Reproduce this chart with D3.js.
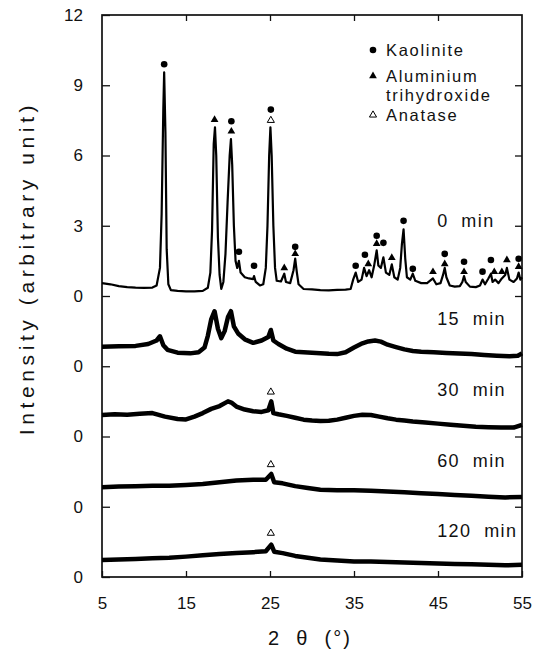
<!DOCTYPE html>
<html>
<head>
<meta charset="utf-8">
<script src="https://cdn.jsdelivr.net/npm/d3@7"></script>
<style>
  body { margin: 0; background: #fff; }
  svg text { font-family: "Liberation Sans", Arial, sans-serif; fill: #111; }
</style>
</head>
<body>
<div id="chart"></div>
<script>
// ---- data ----
const traceNames = ["0 min", "15 min", "30 min", "60 min", "120 min"];
const traceOffsets = [0, -3, -6, -9, -12];   // each pattern is stacked 3 units lower

const trace0 = [
  [5.0,0.55],[6.0,0.5],[7.0,0.42],[8.0,0.38],[9.0,0.36],[10.0,0.35],[11.0,0.36],[11.5,0.45],
  [11.9,1.2],[12.1,3.5],[12.3,8.0],[12.4,9.55],[12.55,7.0],[12.7,2.0],[12.9,0.5],[13.2,0.25],
  [14,0.22],[15,0.2],[16,0.2],[17,0.22],[17.6,0.35],[17.9,1.0],[18.1,2.8],[18.3,6.5],[18.45,7.2],
  [18.6,6.0],[18.8,2.5],[19.0,0.9],[19.2,0.3],[19.45,0.6],[19.7,1.8],[19.95,4.0],[20.2,6.0],
  [20.35,6.7],[20.5,5.6],[20.7,3.0],[20.9,1.5],[21.1,1.2],[21.3,1.5],[21.5,1.0],[22.0,0.8],
  [22.5,0.75],[23.0,0.72],[23.1,0.85],[23.3,0.6],[23.8,0.45],[24.2,0.5],[24.5,1.2],[24.7,3.0],
  [24.9,6.0],[25.05,7.2],[25.2,6.0],[25.4,3.0],[25.6,1.2],[25.8,0.65],[26.3,0.62],[26.7,0.95],
  [26.9,0.6],[27.4,0.55],[27.8,1.1],[28.0,1.6],[28.2,1.0],[28.4,0.5],[29,0.3],[30,0.28],
  [31,0.25],[32,0.24],[33,0.26],[34,0.27],[34.6,0.3],[34.9,0.7],[35.2,1.0],[35.5,0.6],[35.9,0.7],
  [36.2,1.2],[36.5,0.85],[36.8,1.1],[37.1,0.8],[37.4,1.3],[37.7,1.95],[37.9,1.3],[38.2,1.2],
  [38.5,1.65],[38.8,1.0],[39.2,0.9],[39.5,1.35],[39.8,0.8],[40.2,0.7],[40.5,1.2],[40.7,2.2],
  [40.9,2.85],[41.1,1.6],[41.3,0.8],[41.7,0.7],[42.0,0.95],[42.3,0.65],[43,0.55],[43.7,0.55],
  [44.4,0.75],[44.8,0.5],[45.3,0.55],[45.6,0.9],[45.8,1.2],[46.0,0.8],[46.4,0.45],[47,0.4],
  [47.6,0.42],[47.9,0.6],[48.1,0.85],[48.3,0.6],[48.8,0.4],[49.5,0.38],[50.0,0.45],[50.3,0.7],
  [50.6,0.5],[51.0,0.75],[51.3,0.95],[51.5,0.6],[51.8,0.7],[52.2,0.55],[52.6,0.75],[53.0,0.9],
  [53.2,1.2],[53.5,0.7],[54.0,0.6],[54.4,0.75],[54.6,1.0],[54.8,0.7],[55.0,0.8]
];
const trace15 = [
  [5.0,0.83],[7.0,0.85],[9.0,0.87],[10.5,0.95],[11.5,1.1],[11.9,1.28],[12.3,0.9],[12.8,0.7],
  [14,0.58],[15.5,0.55],[16.5,0.6],[17.2,0.8],[17.6,1.3],[18.0,2.0],[18.4,2.35],[18.8,1.6],
  [19.2,1.2],[19.6,1.5],[20.0,2.1],[20.35,2.35],[20.7,1.7],[21.2,1.4],[22.0,1.15],[23.0,1.0],
  [24.0,1.1],[24.8,1.25],[25.1,1.55],[25.4,1.1],[26.0,0.95],[27.0,0.75],[28.0,0.62],[29.0,0.6],
  [30.0,0.58],[31.0,0.56],[32.0,0.53],[33.0,0.52],[34.0,0.6],[35.0,0.8],[36.0,0.98],[36.7,1.06],
  [37.5,1.1],[38.2,1.05],[39.0,0.92],[40.0,0.82],[41.0,0.72],[42.0,0.65],[43.0,0.62],[44.5,0.6],
  [46.0,0.57],[47.5,0.54],[49.0,0.52],[50.5,0.48],[52.0,0.45],[53.5,0.43],[54.5,0.45],[55.0,0.55]
];
const trace30 = [
  [5.0,0.92],[6.5,0.95],[8.0,0.93],[9.5,0.97],[11.0,1.0],[12.5,0.85],[14.0,0.75],[15.0,0.73],
  [16.0,0.85],[17.0,1.0],[18.0,1.18],[19.0,1.3],[20.0,1.5],[20.4,1.45],[21.0,1.28],[22.0,1.15],
  [23.0,1.08],[24.0,1.05],[24.8,1.12],[25.15,1.5],[25.4,1.0],[26.0,0.95],[27.0,0.88],[28.0,0.8],
  [29.0,0.72],[30.0,0.68],[31.0,0.66],[32.0,0.67],[33.0,0.72],[34.0,0.8],[35.0,0.88],[36.0,0.93],
  [37.0,0.92],[38.0,0.85],[39.0,0.78],[40.0,0.72],[41.0,0.68],[42.0,0.64],[43.5,0.6],[45.0,0.55],
  [46.5,0.5],[48.0,0.46],[49.5,0.42],[51.0,0.4],[52.5,0.38],[54.0,0.38],[55.0,0.5]
];
const trace60 = [
  [5.0,0.83],[7.0,0.86],[9.0,0.88],[11.0,0.9],[13.0,0.9],[15.0,0.93],[17.0,0.97],[19.0,1.05],
  [21.0,1.12],[23.0,1.15],[24.5,1.15],[25.15,1.4],[25.5,1.05],[26.5,1.0],[28.0,0.88],[29.5,0.8],
  [31.0,0.73],[33.0,0.7],[35.0,0.7],[37.0,0.68],[39.0,0.65],[41.0,0.62],[43.0,0.58],[45.0,0.54],
  [47.0,0.5],[49.0,0.47],[51.0,0.43],[53.0,0.4],[55.0,0.42]
];
const trace120 = [
  [5.0,0.73],[7.0,0.75],[9.0,0.77],[11.0,0.8],[13.0,0.82],[15.0,0.87],[17.0,0.93],[19.0,0.98],
  [21.0,1.02],[23.0,1.06],[24.5,1.1],[25.15,1.38],[25.5,1.08],[26.5,1.02],[28.0,0.9],[29.5,0.82],
  [31.0,0.75],[33.0,0.7],[35.0,0.66],[37.0,0.66],[39.0,0.64],[41.0,0.62],[43.0,0.6],[45.0,0.58],
  [47.0,0.56],[49.0,0.54],[51.0,0.52],[53.0,0.5],[55.0,0.52]
];
const traces = [trace0, trace15, trace30, trace60, trace120];

// phase markers: [trace index, 2theta, intensity]
const kaolinite = [
  [0,12.4,9.9],[0,20.4,7.46],[0,21.3,1.89],[0,23.1,1.29],[0,25.1,7.96],[0,28.0,2.1],
  [0,35.2,1.29],[0,36.3,1.76],[0,37.7,2.57],[0,38.5,2.27],[0,40.9,3.21],[0,42.0,1.16],
  [0,45.8,1.8],[0,48.1,1.46],[0,50.3,1.04],[0,51.3,1.54],[0,54.6,1.59]
];
const alTrihydroxide = [
  [0,18.4,7.53],[0,20.4,7.03],[0,26.7,1.2],[0,28.0,1.8],[0,36.7,1.37],[0,37.7,2.23],
  [0,39.5,1.63],[0,44.4,1.03],[0,45.8,1.37],[0,48.1,1.03],[0,51.7,1.03],[0,52.6,1.03],
  [0,53.2,1.54],[0,54.6,1.25]
];
const anatase = [[0,25.1,7.5],[2,25.1,1.9],[3,25.1,1.8],[4,25.1,1.87]];

const xTickValues = [5, 15, 25, 35, 45, 55];
const yTickValues = [12, 9, 6, 3, 0, -3, -6, -9, -12];
const yTickLabels = ["12", "9", "6", "3", "0", "0", "0", "0", "0"];
const legendNames = ["Kaolinite", "Aluminium\ntrihydroxide", "Anatase"];

// ---- layout ----
const width = 540, height = 652;
const margin = {left: 102, right: 18, top: 15, bottom: 75};

const svg = d3.select("#chart").append("svg")
  .attr("width", width)
  .attr("height", height);

const x = d3.scaleLinear().domain([5, 55]).range([margin.left, width - margin.right]);
const y = d3.scaleLinear().domain([-12, 12]).range([height - margin.bottom, margin.top]);

// axes with inward ticks
svg.append("g")
  .attr("transform", `translate(${margin.left},0)`)
  .call(d3.axisLeft(y).tickValues(yTickValues)
    .tickFormat((d, i) => yTickLabels[i]).tickSizeInner(-8).tickSizeOuter(0).tickPadding(19))
  .call(g => g.select(".domain").remove())
  .call(g => g.selectAll("text").style("font-size", "17px").attr("fill", "#111"));

svg.append("g")
  .attr("transform", `translate(${width - margin.right},0)`)
  .call(d3.axisRight(y).tickValues(yTickValues.slice(1, -1))
    .tickFormat("").tickSizeInner(-7).tickSizeOuter(0))
  .call(g => g.select(".domain").remove());

svg.append("g")
  .attr("transform", `translate(0,${height - margin.bottom})`)
  .call(d3.axisBottom(x).tickValues(xTickValues)
    .tickSizeInner(-6).tickSizeOuter(0).tickPadding(20))
  .call(g => g.select(".domain").remove())
  .call(g => g.selectAll("text").style("font-size", "17px").attr("fill", "#111"));

svg.append("g")
  .attr("transform", `translate(0,${margin.top})`)
  .call(d3.axisTop(x).tickValues(xTickValues.slice(1, -1))
    .tickFormat("").tickSizeInner(-6).tickSizeOuter(0))
  .call(g => g.select(".domain").remove());

svg.selectAll(".tick line").attr("stroke", "#111").attr("stroke-width", 1.3);

// frame
svg.append("rect")
  .attr("x", x(5)).attr("y", y(12))
  .attr("width", x(55) - x(5)).attr("height", y(-12) - y(12))
  .attr("fill", "none").attr("stroke", "#111").attr("stroke-width", 1.7);

// patterns
const line = d3.line()
  .x(d => x(d[0]))
  .y(d => y(d[1] + d.off));

traces.forEach((tr, i) => {
  const pts = tr.map(d => { const p = [d[0], d[1]]; p.off = traceOffsets[i]; return p; });
  svg.append("path")
    .datum(pts)
    .attr("fill", "none")
    .attr("stroke", "#000")
    .attr("stroke-width", i === 0 ? 2.2 : 4.5)
    .attr("stroke-linejoin", "round")
    .attr("d", line);
});

// markers
svg.selectAll("circle.kao").data(kaolinite).enter()
  .append("circle")
  .attr("class", "kao")
  .attr("cx", d => x(d[1]))
  .attr("cy", d => y(d[2] + traceOffsets[d[0]]))
  .attr("r", 3.3)
  .attr("fill", "#000");

const tri = d3.symbol().type(d3.symbolTriangle);

svg.selectAll("path.alt").data(alTrihydroxide).enter()
  .append("path")
  .attr("class", "alt")
  .attr("transform", d => `translate(${x(d[1])},${y(d[2] + traceOffsets[d[0]])})`)
  .attr("d", tri.size(26)())
  .attr("fill", "#000");

svg.selectAll("path.ana").data(anatase).enter()
  .append("path")
  .attr("class", "ana")
  .attr("transform", d => `translate(${x(d[1])},${y(d[2] + traceOffsets[d[0]])})`)
  .attr("d", tri.size(22)())
  .attr("fill", "#fff")
  .attr("stroke", "#000")
  .attr("stroke-width", 1);

// pattern labels
const labelLift = [2.95, 1.75, 1.72, 1.68, 1.7];
traceNames.forEach((name, i) => {
  svg.append("text")
    .attr("x", x(44.9))
    .attr("y", y(traceOffsets[i] + labelLift[i]))
    .style("font-size", "18px")
    .style("letter-spacing", "1.4px")
    .attr("xml:space", "preserve")
    .text(name.replace(" ", "  "));
});

// legend
const legend = svg.append("g").attr("transform", "translate(373,0)");
const legendRows = [50, 76, 115];
legendNames.forEach((name, i) => {
  const gy = legendRows[i];
  if (i === 0) {
    legend.append("circle").attr("cx", 0).attr("cy", gy).attr("r", 3.3).attr("fill", "#000");
  } else if (i === 1) {
    legend.append("path").attr("transform", `translate(0,${gy})`)
      .attr("d", tri.size(26)()).attr("fill", "#000");
  } else {
    legend.append("path").attr("transform", `translate(0,${gy})`)
      .attr("d", tri.size(22)()).attr("fill", "#fff").attr("stroke", "#000");
  }
  name.split("\n").forEach((part, j) => {
    legend.append("text")
      .attr("x", 13)
      .attr("y", gy + 6 + j * 19)
      .style("font-size", "16.5px")
      .style("letter-spacing", "1.7px")
      .text(part);
  });
});

// axis titles
svg.append("text")
  .attr("transform", `translate(34, ${(y(12) + y(-12)) / 2 - 28}) rotate(-90)`)
  .style("text-anchor", "middle")
  .style("font-size", "21px")
  .style("letter-spacing", "4.6px")
  .text("Intensity (arbitrary unit)");

svg.append("text")
  .attr("x", (x(5) + x(55)) / 2 - 2)
  .attr("y", 645)
  .style("text-anchor", "middle")
  .style("font-size", "20px")
  .style("letter-spacing", "2px")
  .attr("xml:space", "preserve")
  .text("2  θ  (°)");
</script>
</body>
</html>
